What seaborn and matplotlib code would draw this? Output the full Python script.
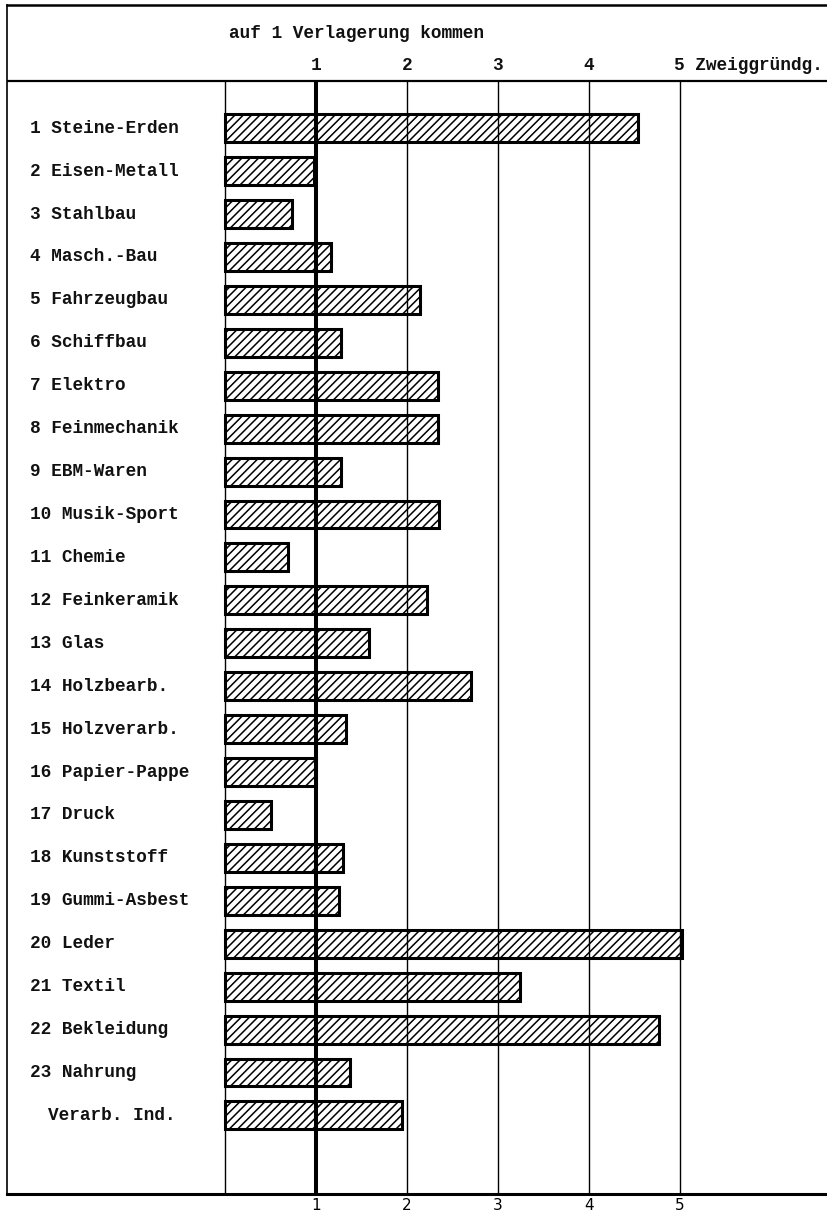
import matplotlib
matplotlib.use('Agg')
import matplotlib.pyplot as plt
import seaborn as sns

# Branches (rows, top to bottom) and ratio Zweiggruendungen per Verlagerung
branches = ['1 Steine-Erden', '2 Eisen-Metall', '3 Stahlbau', '4 Masch.-Bau',
            '5 Fahrzeugbau', '6 Schiffbau', '7 Elektro', '8 Feinmechanik',
            '9 EBM-Waren', '10 Musik-Sport', '11 Chemie', '12 Feinkeramik',
            '13 Glas', '14 Holzbearb.', '15 Holzverarb.', '16 Papier-Pappe',
            '17 Druck', '18 Kunststoff', '19 Gummi-Asbest', '20 Leder',
            '21 Textil', '22 Bekleidung', '23 Nahrung', 'Verarb. Ind.']
ratios = [4.54, 0.98, 0.74, 1.17, 2.15, 1.28, 2.34, 2.34, 1.28, 2.35, 0.69, 2.22,
          1.59, 2.71, 1.33, 1.00, 0.51, 1.30, 1.25, 5.03, 3.25, 4.77, 1.38, 1.95]
scale_ticks = [1, 2, 3, 4, 5]
header_text = 'auf 1 Verlagerung kommen'
unit_text = 'Zweiggründg.'

sns.set_style('white')
plt.rcParams['font.family'] = ['Liberation Mono', 'DejaVu Sans']
plt.rcParams['hatch.linewidth'] = 1.1
plt.rcParams['hatch.color'] = 'black'

txt = dict(fontsize=12.8, color='#111', fontweight='bold')

fig = plt.figure(figsize=(8.27, 12.13), dpi=100)
ax = fig.add_axes([7 / 827, 19 / 1213, 1 - 7 / 827, 1189 / 1213])

sns.barplot(x=ratios, y=branches, orient='h', color='white', edgecolor='black',
            linewidth=2.2, hatch='////', width=0.65, ax=ax, zorder=2)

ax.set_xlim(-2.396, 6.621)
ax.set_ylim(24.83, -2.87)

# vertical scale lines
header_y = -1.10
for t in [0] + scale_ticks:
    ax.vlines(t, header_y, 24.83, color='black',
              lw=2.9 if t == 1 else 1.0, zorder=3)
ax.axhline(header_y, color='black', lw=1.6)

# row labels
for i, name in enumerate(branches):
    xpos = -1.946 if name.startswith('Verarb') else -2.143
    ax.text(xpos, i, name, ha='left', va='center', **txt)

# header
ax.text(0.05, -2.21, header_text, ha='left', va='center', **txt)
for t in scale_ticks[:-1]:
    ax.text(t, -1.47, str(t), ha='center', va='center', **txt)
ax.text(4.94, -1.47, '5 ' + unit_text, ha='left', va='center', **txt)

# bottom scale
ax.set_yticks([])
ax.set_ylabel('')
ax.set_xticks(scale_ticks)
ax.set_xticklabels([str(t) for t in scale_ticks], family='DejaVu Sans',
                   fontsize=11, color='black')
ax.tick_params(axis='x', length=0, pad=3)

for side, lw in [('top', 1.8), ('bottom', 2.2), ('left', 1.2)]:
    ax.spines[side].set_linewidth(lw)
    ax.spines[side].set_color('black')
ax.spines['right'].set_visible(False)

fig.savefig('out.png', dpi=100)
